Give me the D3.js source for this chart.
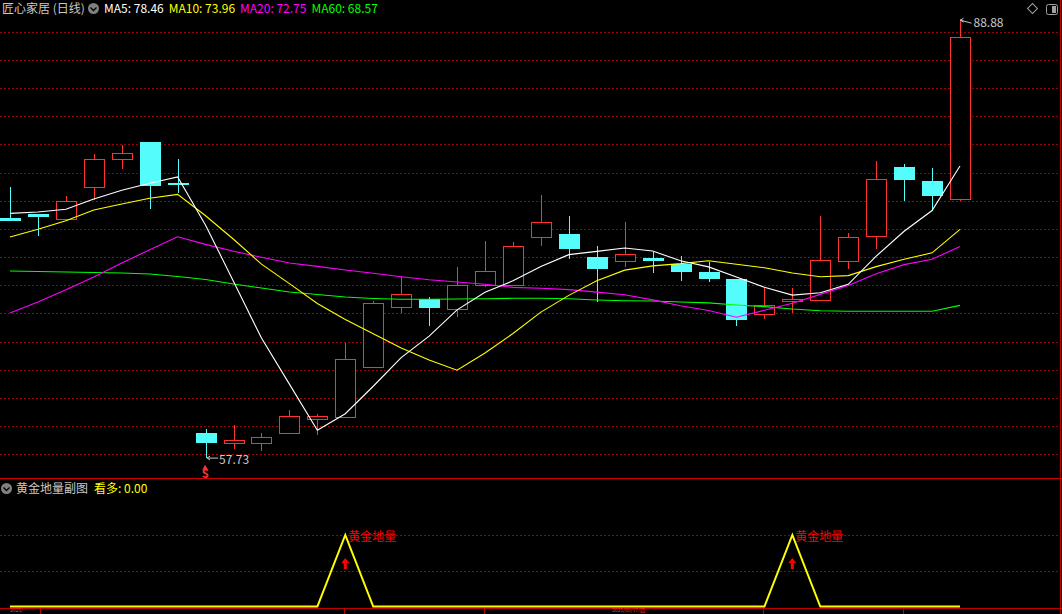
<!DOCTYPE html>
<html><head><meta charset="utf-8">
<script src="https://cdn.jsdelivr.net/npm/d3@7"></script>
<style>
html,body{margin:0;padding:0;background:#000;overflow:hidden}
svg{display:block}
text{font-family:"Noto Sans CJK SC","DejaVu Sans",sans-serif}
</style></head>
<body>
<svg id="c" width="1062" height="614"></svg>
<script>
// ---- data ----
const opens  = [74.79,75.05,74.68,76.95,78.94,80.16,77.25,59.49,58.82,58.82,59.49,60.48,60.63,64.22,68.48,69.02,68.33,70.00,70.00,73.40,73.64,72.00,71.70,71.93,71.53,70.92,70.44,67.94,68.90,68.97,71.70,73.47,78.39,77.40,76.10];
const highs  = [76.99,75.08,76.33,79.31,79.95,80.18,78.96,59.77,60.08,59.49,61.14,60.86,65.88,68.90,70.68,69.19,71.27,73.14,73.07,76.40,74.91,72.78,74.49,72.38,72.07,71.67,70.46,69.82,69.82,74.93,73.73,78.82,78.60,78.32,88.88];
const lows   = [74.56,73.49,74.65,76.05,78.23,75.41,76.52,57.73,58.35,58.26,59.47,59.37,60.60,64.12,68.05,67.13,67.77,69.90,69.98,72.80,71.88,68.83,71.31,70.89,70.32,70.25,67.13,67.60,68.01,68.95,71.13,72.59,76.00,75.29,76.00];
const closes = [74.58,74.86,75.98,78.94,79.36,77.06,77.13,58.82,58.99,59.23,60.72,60.72,64.74,68.72,69.38,68.40,70.00,71.01,72.76,74.47,72.59,71.17,72.19,71.74,70.96,70.46,67.53,68.57,69.00,71.79,73.40,77.52,77.45,76.35,87.60];
const ma5  = [75.10,75.20,75.39,76.12,76.74,77.24,77.69,74.26,70.27,66.25,62.98,59.70,60.88,62.83,64.86,66.39,68.25,69.50,70.31,71.33,72.17,72.40,72.64,72.43,71.73,71.30,70.58,69.85,69.30,69.47,70.06,72.06,73.83,75.30,78.46];
const ma10 = [73.42,73.97,74.58,75.34,75.76,76.17,76.45,74.93,73.26,71.50,70.11,68.70,67.57,66.55,65.55,64.69,63.97,65.19,66.57,68.09,69.28,70.32,71.07,71.37,71.53,71.74,71.49,71.24,70.87,70.60,70.68,71.32,71.84,72.30,73.96];
const ma20 = [68.03,68.81,69.67,70.59,71.58,72.51,73.44,72.90,72.41,71.98,71.58,71.34,71.08,70.85,70.60,70.39,70.23,70.07,69.85,69.79,69.69,69.51,69.32,68.96,68.54,68.21,67.73,68.22,68.72,69.35,69.98,70.82,71.46,71.84,72.75];
const ma60 = [71.01,70.97,70.94,70.90,70.87,70.80,70.62,70.41,70.09,69.80,69.52,69.34,69.16,69.06,69.00,69.00,69.02,69.04,69.07,69.07,69.04,68.95,68.90,68.88,68.81,68.75,68.60,68.48,68.31,68.19,68.15,68.15,68.15,68.15,68.57];
const signal = [0,0,0,0,0,0,0,0,0,0,0,0,1,0,0,0,0,0,0,0,0,0,0,0,0,0,0,0,1,0,0,0,0,0,0];
const priceTicks = d3.range(58, 89, 2);
const subTicks = [0.5, 1];
const title = "匠心家居 (日线)";
const maLegend = [["MA5", "78.46", "#ffffff"], ["MA10", "73.96", "#ffff00"], ["MA20", "72.75", "#ff00ff"], ["MA60", "68.57", "#00ff00"]];
const highLabel = "88.88", lowLabel = "57.73";
const subTitle = "黄金地量副图", subLegend = "看多: 0.00", markText = "黄金地量";
const dateLabels = [["2025/", 10], ["2025/09/17/四", 612]];

// ---- scales ----
const svg = d3.select("#c");
const idx = d3.range(closes.length);
const x = d3.scalePoint().domain(idx).range([10, 960]);
const y = d3.scaleLinear().domain([58, 88]).range([454.3, 31.6]);
const ys = d3.scaleLinear().domain([0, 1]).range([606.5, 535]);
const RED = "#ff3232", CYAN = "#54fcfc", GRID = "#a00000";

svg.append("rect").attr("width", 1062).attr("height", 614).attr("fill", "#000");

// grid lines
const g = svg.append("g").attr("shape-rendering", "crispEdges");
g.selectAll("line.pg").data(priceTicks).join("line")
  .attr("x1", 0).attr("x2", 1060).attr("y1", d => Math.round(y(d)) + 0.5).attr("y2", d => Math.round(y(d)) + 0.5)
  .attr("stroke", GRID).attr("stroke-dasharray", "1.5,2.5");
g.selectAll("line.sg").data(subTicks).join("line")
  .attr("x1", 0).attr("x2", 1060).attr("y1", d => Math.round(ys(d)) + 0.5).attr("y2", d => Math.round(ys(d)) + 0.5)
  .attr("stroke", GRID).attr("stroke-dasharray", "1.5,2.5");

// frame lines
g.append("line").attr("x1", 0).attr("x2", 1062).attr("y1", 478.5).attr("y2", 478.5).attr("stroke", "#d00000");
g.append("line").attr("x1", 0).attr("x2", 1062).attr("y1", 608.5).attr("y2", 608.5).attr("stroke", "#c00000");
g.append("line").attr("x1", 1060.5).attr("x2", 1060.5).attr("y1", 0).attr("y2", 614).attr("stroke", "#c00000");
[40, 344, 484, 763, 903].forEach(t => g.append("line").attr("x1", t + 0.5).attr("x2", t + 0.5).attr("y1", 608).attr("y2", 614).attr("stroke", "#c00000"));
dateLabels.forEach(([t, px]) => svg.append("text").attr("x", px).attr("y", 612).attr("fill", RED).attr("font-size", 5).text(t));

// candles
const cg = svg.append("g").attr("shape-rendering", "crispEdges");
idx.forEach(i => {
  const cx = Math.round(x(i));
  const up = closes[i] >= opens[i];
  const col = up ? RED : CYAN;
  const top = y(Math.max(opens[i], closes[i])), bot = y(Math.min(opens[i], closes[i]));
  const yt = Math.round(top), yb = Math.max(Math.round(bot), yt + 1);
  if (up) {
    cg.append("line").attr("x1", cx + 0.5).attr("x2", cx + 0.5).attr("y1", y(highs[i])).attr("y2", yt).attr("stroke", col).attr("stroke-width", 1.2);
    cg.append("line").attr("x1", cx + 0.5).attr("x2", cx + 0.5).attr("y1", yb).attr("y2", y(lows[i])).attr("stroke", col).attr("stroke-width", 1.2);
    cg.append("rect").attr("x", cx - 9.5).attr("y", yt + 0.5).attr("width", 20).attr("height", yb - yt)
      .attr("fill", "#000").attr("stroke", col).attr("stroke-width", 1.6);
  } else {
    cg.append("line").attr("x1", cx + 0.5).attr("x2", cx + 0.5).attr("y1", y(highs[i])).attr("y2", y(lows[i])).attr("stroke", col).attr("stroke-width", 1.2);
    cg.append("rect").attr("x", cx - 10).attr("y", yt).attr("width", 21).attr("height", Math.max(yb - yt, 2)).attr("fill", col);
  }
});

// moving averages
const line = arr => d3.line().x((d, i) => x(i)).y(d => y(d))(arr);
[[ma60, "#00ff00"], [ma20, "#ff00ff"], [ma10, "#ffff00"], [ma5, "#ffffff"]].forEach(([arr, c]) => {
  svg.append("path").attr("d", line(arr)).attr("fill", "none").attr("stroke", c).attr("stroke-width", 1.1);
});

// high / low labels
const hi = d3.maxIndex(highs), lo = d3.minIndex(lows);
const hx = x(hi) + 0.5, hy = y(highs[hi]);
svg.append("path").attr("d", `M${hx},${hy + 1} L${hx + 11},${hy + 4} M${hx},${hy + 1} l3,-2 M${hx},${hy + 1} l3,2`).attr("stroke", "#c8c8c8").attr("fill", "none");
svg.append("text").attr("x", hx + 13).attr("y", hy + 8).attr("fill", "#c8c8c8").attr("font-size", 12).attr("font-family", "DejaVu Sans, sans-serif").text(highLabel);
const lx = x(lo) + 0.5, ly = y(lows[lo]);
svg.append("path").attr("d", `M${lx + 1},${ly} L${lx + 12},${ly} M${lx + 1},${ly} l3,-2 M${lx + 1},${ly} l3,2`).attr("stroke", "#c8c8c8").attr("fill", "none");
svg.append("text").attr("x", lx + 13).attr("y", ly + 5.5).attr("fill", "#c8c8c8").attr("font-size", 12).attr("font-family", "DejaVu Sans, sans-serif").text(lowLabel);
// S marker
svg.append("path").attr("d", d3.symbol(d3.symbolTriangle, 14)()).attr("transform", `translate(${lx - 1},${ly + 10})`).attr("fill", RED);
svg.append("text").attr("x", lx - 1).attr("y", ly + 20).attr("text-anchor", "middle").attr("fill", RED).attr("font-size", 11).attr("font-weight", "bold").attr("font-family", "DejaVu Sans, sans-serif").text("S");

// legend (top)
svg.append("text").attr("x", 2).attr("y", 13).attr("fill", "#c8c8c8").attr("font-size", 12).text(title);
svg.append("circle").attr("cx", 93.5).attr("cy", 8.5).attr("r", 5.5).attr("fill", "#808080");
svg.append("path").attr("d", "M90.5,7.5 L93.5,10.5 L96.5,7.5").attr("stroke", "#000").attr("stroke-width", 1.3).attr("fill", "none");
let lxp = 104;
maLegend.forEach(([n, v, c]) => {
  const t = svg.append("text").attr("x", lxp).attr("y", 13).attr("fill", c).attr("font-size", 12).attr("font-family", "DejaVu Sans, sans-serif").text(`${n}: ${v}`);
  lxp += t.node().getComputedTextLength() + 5;
});
// top right icons
svg.append("rect").attr("x", 1029).attr("y", 5).attr("width", 7).attr("height", 7).attr("transform", "rotate(45 1032.5 8.5)").attr("fill", "none").attr("stroke", "#a0a0a0");
svg.append("rect").attr("x", 1046.5).attr("y", 4.5).attr("width", 11).attr("height", 10).attr("rx", 2).attr("fill", "none").attr("stroke", "#a0a0a0");
svg.append("rect").attr("x", 1052).attr("y", 6).attr("width", 4).attr("height", 7).attr("fill", "#a0a0a0");

// sub panel legend
svg.append("circle").attr("cx", 6.5).attr("cy", 488.5).attr("r", 5.5).attr("fill", "#808080");
svg.append("path").attr("d", "M3.5,487.5 L6.5,490.5 L9.5,487.5").attr("stroke", "#000").attr("stroke-width", 1.3).attr("fill", "none");
svg.append("text").attr("x", 16).attr("y", 493).attr("fill", "#c8c8c8").attr("font-size", 12).text(subTitle);
svg.append("text").attr("x", 94).attr("y", 493).attr("fill", "#ffff00").attr("font-size", 12).text(subLegend);

// sub panel signal line
svg.append("path").attr("d", d3.line().x((d, i) => x(i)).y(d => ys(d))(signal)).attr("fill", "none").attr("stroke", "#ffff00").attr("stroke-width", 2);
idx.filter(i => signal[i] > 0).forEach(i => {
  const px = x(i), py = ys(signal[i]);
  svg.append("text").attr("x", px + 3).attr("y", py + 6).attr("fill", "#ff0000").attr("font-size", 12).text(markText);
  svg.append("path").attr("d", `M${px},${py + 23} l-4,5 l2.5,0 l0,6 l3,0 l0,-6 l2.5,0 z`).attr("fill", "#ff0000");
});
</script>
</body></html>
